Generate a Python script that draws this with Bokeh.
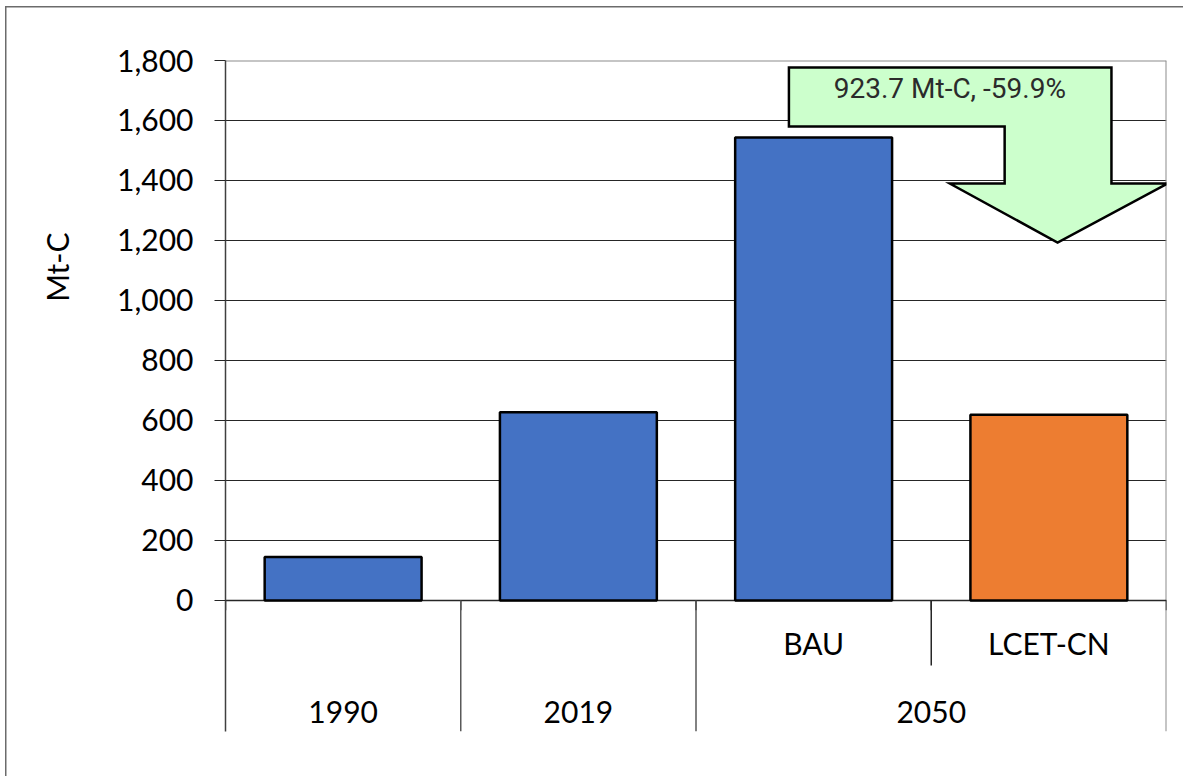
from bokeh.plotting import figure
from bokeh.models import Range1d, FixedTicker, NumeralTickFormatter, Title, ColumnDataSource
from bokeh.core.properties import value
from bokeh.embed import file_html
from bokeh.resources import INLINE

# ---------------- data ----------------
categories = ["1990", "2019", "BAU", "LCET-CN"]
sub_labels = ["", "", "BAU", "LCET-CN"]
group_labels = ["1990", "2019", "2050"]
group_spans = [(0, 1), (1, 2), (2, 4)]          # category index ranges of each group
emissions = [145, 627, 1543, 619]               # Mt-C
bar_colors = ["#4472C4", "#4472C4", "#4472C4", "#ED7D31"]
y_ticks = [0, 200, 400, 600, 800, 1000, 1200, 1400, 1600, 1800]
y_label = "Mt-C"
annotation_text = "923.7 Mt-C, -59.9%"

# ---------------- layout constants ----------------
Y_TOP = 1800
Y_BOTTOM = -437          # room below zero for the two-level category labels
SUB_Y = -143             # level-1 label row
GRP_Y = -373             # level-2 label row
INNER_SEP_Y = -217       # end of separator between sub-categories
FONT = "Lato"

n = len(categories)
xs = [i + 0.5 for i in range(n)]

p = figure(width=1183, height=776, output_backend="svg", toolbar_location=None,
           x_range=Range1d(0, n), y_range=Range1d(Y_BOTTOM, Y_TOP),
           min_border_left=224, min_border_right=17, min_border_top=60, min_border_bottom=45)
# outer chart frame (left and top edges visible)
p.styles = {
    "background-color": "white",
    "background-image": "linear-gradient(#6b6b6b,#6b6b6b), linear-gradient(#6b6b6b,#6b6b6b)",
    "background-position": "5px 6px, 5px 6px",
    "background-size": "1.5px 100%, 100% 1.5px",
    "background-repeat": "no-repeat, no-repeat",
}
p.outline_line_color = None
p.background_fill_color = "white"
p.border_fill_alpha = 0

# axes
p.xaxis.visible = False
p.xgrid.visible = False
ya = p.yaxis[0]
ya.ticker = FixedTicker(ticks=y_ticks)
ya.formatter = NumeralTickFormatter(format="0,0")
ya.major_label_text_font = FONT
ya.major_label_text_font_size = "30px"
ya.major_label_text_color = "black"
ya.major_tick_out = 11
ya.major_tick_in = 0
ya.major_tick_line_color = "#262626"
ya.minor_tick_line_color = None
ya.major_label_standoff = 21
ya.axis_line_color = "#404040"
ya.axis_line_width = 1.5

# y axis title, placed as a left-side title near the upper part of the axis
p.add_layout(Title(text=y_label, align="right", offset=172, standoff=76,
                   text_font=FONT, text_font_size="30px", text_font_style="normal",
                   text_color="black", vertical_align="top"), "left")

p.ygrid.ticker = FixedTicker(ticks=y_ticks[:-1])
p.ygrid.grid_line_color = "#262626"
p.ygrid.grid_line_width = 1

# top border and right border of plot area
p.segment(x0=[0], y0=[Y_TOP], x1=[n], y1=[Y_TOP], line_color="#8c8c8c", line_width=2)
p.segment(x0=[n], y0=[Y_TOP], x1=[n], y1=[Y_BOTTOM], line_color="#8c8c8c", line_width=2)
# zero line
p.segment(x0=[0], y0=[0], x1=[n], y1=[0], line_color="#262626", line_width=1.5)

# category ticks at boundaries
boundaries = list(range(n + 1))
p.segment(x0=boundaries, y0=[0] * len(boundaries), x1=boundaries, y1=[-33] * len(boundaries),
          line_color="#262626", line_width=1.5)
# group separators
grp_edges = sorted(set([a for a, b in group_spans[1:]]))
p.segment(x0=grp_edges, y0=[0] * len(grp_edges), x1=grp_edges, y1=[Y_BOTTOM] * len(grp_edges),
          line_color="#595959", line_width=1.5)
# sub-category separators inside groups
inner = [i for a, b in group_spans for i in range(a + 1, b)]
p.segment(x0=inner, y0=[0] * len(inner), x1=inner, y1=[INNER_SEP_Y] * len(inner),
          line_color="#262626", line_width=1.5)

# bars
src = ColumnDataSource(dict(x=xs, top=emissions, color=bar_colors))
p.vbar(x="x", top="top", width=0.667, bottom=0, source=src, fill_color="color",
       line_color="black", line_width=2.5)

# category labels
sub_src = ColumnDataSource(dict(x=[x for x, s in zip(xs, sub_labels) if s],
                                y=[SUB_Y] * sum(1 for s in sub_labels if s),
                                t=[s for s in sub_labels if s]))
p.text(x="x", y="y", text="t", source=sub_src, text_font=value(FONT), text_font_size="30px",
       text_align="center", text_baseline="middle", text_color="black")
grp_src = ColumnDataSource(dict(x=[(a + b) / 2 for a, b in group_spans],
                                y=[GRP_Y] * len(group_labels), t=group_labels))
p.text(x="x", y="y", text="t", source=grp_src, text_font=value(FONT), text_font_size="30px",
       text_align="center", text_baseline="middle", text_color="black")

# bent arrow annotation (BAU -> LCET-CN)
arrow_x = [2.395, 3.766, 3.766, 4.004, 3.537, 3.079, 3.312, 3.312, 2.395]
arrow_y = [1777, 1777, 1390, 1390, 1193, 1390, 1390, 1580, 1580]
p.patch(arrow_x, arrow_y, fill_color="#CCFFCC", line_color="black", line_width=2.5,
        line_join="miter")
p.text(x=[3.079], y=[1705], text=[annotation_text], text_font=value("Roboto"),
       text_font_size="28px", text_align="center", text_baseline="middle", text_color="#2b2b2b")

open("out.html", "w").write(file_html(p, INLINE))
